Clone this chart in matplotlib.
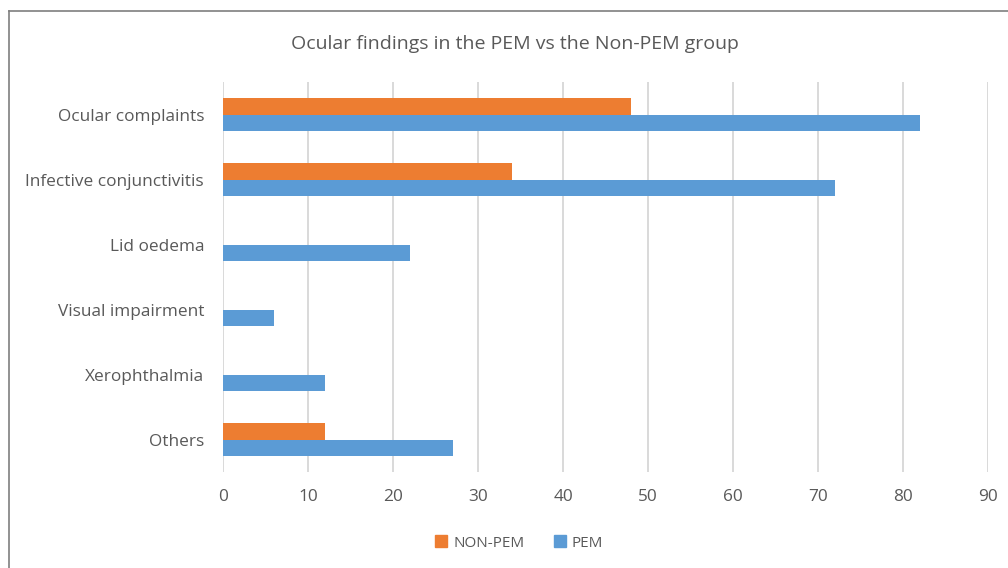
import matplotlib

matplotlib.use("Agg")
import matplotlib.pyplot as plt  # noqa: E402
import numpy as np  # noqa: E402
from matplotlib.lines import Line2D  # noqa: E402
from matplotlib.patches import Patch  # noqa: E402

ORANGE, BLUE, GRID, TXT = "#ED7D31", "#5B9BD5", "#D9D9D9", "#595959"

categories = [
    "Ocular complaints",
    "Infective conjunctivitis",
    "Lid oedema",
    "Visual impairment",
    "Xerophthalmia",
    "Others",
]
non_pem = [48, 34, 0, 0, 0, 12]
pem = [82, 72, 22, 6, 12, 27]
xticks = [0, 10, 20, 30, 40, 50, 60, 70, 80, 90]

plt.rcParams["font.family"] = ["Open Sans", "DejaVu Sans"]

fig = plt.figure(figsize=(10.08, 5.68), dpi=100)
ax = fig.add_axes([0.2217, 0.169, 0.7584, 0.6866])

y = np.arange(len(categories))
h = 0.26
ax.barh(y - h / 2, non_pem, height=h, color=ORANGE, zorder=2)
ax.barh(y + h / 2, pem, height=h, color=BLUE, zorder=2)

ax.set_ylim(len(categories) - 0.5, -0.5)
ax.set_xlim(0, 90)
ax.set_xticks(xticks)
ax.set_yticks(y)
ax.set_yticklabels(categories)
ax.tick_params(axis="both", length=0, labelsize=12.4, labelcolor=TXT)
ax.tick_params(axis="y", pad=14)
ax.tick_params(axis="x", pad=12)
ax.xaxis.grid(True, color=GRID, lw=1.4, zorder=0)
for s in ax.spines.values():
    s.set_visible(False)

fig.text(0.511, 0.922, "Ocular findings in the PEM vs the Non-PEM group",
         ha="center", va="center", fontsize=14, color=TXT)

handles = [Patch(color=ORANGE, label="NON-PEM"), Patch(color=BLUE, label="PEM")]
fig.legend(handles=handles, loc="center", bbox_to_anchor=(0.515, 0.044), ncol=2,
           frameon=False, fontsize=11, labelcolor=TXT, handlelength=0.8,
           handleheight=0.8, handletextpad=0.4, columnspacing=1.9)

# chart-area border (left and top edges visible)
fig.add_artist(Line2D([9 / 1008, 9 / 1008], [0, 1 - 11 / 568], color="#7F7F7F", lw=1.2))
fig.add_artist(Line2D([9 / 1008, 1], [1 - 11 / 568, 1 - 11 / 568], color="#7F7F7F", lw=1.2))

fig.savefig("out.png", dpi=100)
